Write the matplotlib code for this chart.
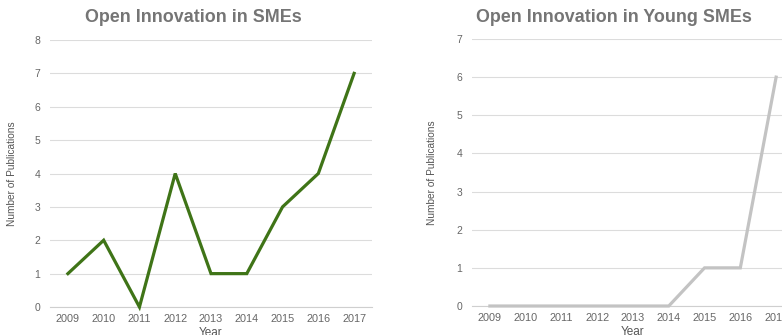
import matplotlib
matplotlib.use("Agg")
import matplotlib.pyplot as plt

years = ["2009", "2010", "2011", "2012", "2013", "2014", "2015", "2016", "2017"]
sme_pubs = [1, 2, 0, 4, 1, 1, 3, 4, 7]
young_sme_pubs = [0, 0, 0, 0, 0, 0, 1, 1, 6]

plt.rcParams['font.family'] = ['Liberation Sans', 'DejaVu Sans']

W, H = 782, 335
fig = plt.figure(figsize=(W / 100, H / 100), dpi=100)

def px_axes(x0, y_top, x1, y_bot):
    return fig.add_axes([x0 / W, 1 - y_bot / H, (x1 - x0) / W, (y_bot - y_top) / H])

def style(ax, data, color, ymax, label_x_px, x0_px):
    x = list(range(len(years)))
    ax.plot(x, data, color=color, lw=2.3, solid_joinstyle='miter', clip_on=False, zorder=3)
    ax.set_xlim(-0.5, len(years) - 0.5)
    ax.set_ylim(0, ymax)
    ax.set_yticks(range(0, ymax + 1))
    ax.set_xticks(x)
    ax.set_xticklabels(years)
    ax.grid(axis='y', color='#dcdcdc', lw=0.8)
    ax.set_axisbelow(True)
    for s in ['left', 'right', 'top']:
        ax.spines[s].set_visible(False)
    ax.spines['bottom'].set_color('#cfcfcf')
    ax.spines['bottom'].set_linewidth(0.8)
    ax.tick_params(axis='x', length=0, labelsize=7.8, colors='#666666', pad=5)
    ax.tick_params(axis='y', length=0, labelsize=7.5, colors='#666666', pad=7)
    ax.set_xlabel("Year", fontsize=8.5, color='#555555', labelpad=2)
    ax.set_ylabel("Number of Publications", fontsize=7.3, color='#555555')
    ax.yaxis.set_label_coords((label_x_px - x0_px) / 322, 0.5)

ax1 = px_axes(50, 40, 372, 307)
style(ax1, sme_pubs, '#3f7417', 8, 17, 50)
ax2 = px_axes(472, 39, 794, 306)
style(ax2, young_sme_pubs, '#c3c3c3', 7, 437, 472)

fig.text(85 / W, 1 - 18 / H, "Open Innovation in SMEs", fontsize=12.9, fontweight='bold',
         color='#757575', ha='left', va='center')
fig.text(476 / W, 1 - 18 / H, "Open Innovation in Young SMEs", fontsize=12.9, fontweight='bold',
         color='#757575', ha='left', va='center')

fig.savefig("out.png", dpi=100)
